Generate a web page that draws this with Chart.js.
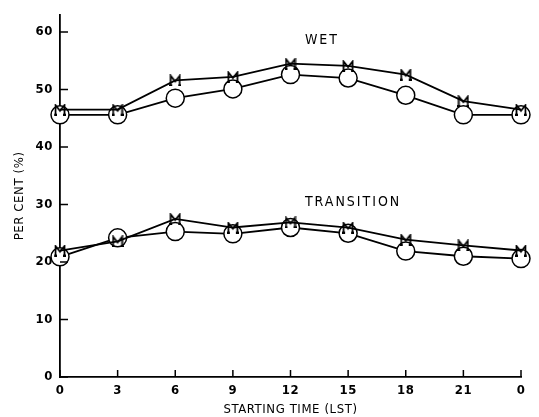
<!DOCTYPE html>
<html><head><meta charset="utf-8">
<script src="https://cdn.jsdelivr.net/npm/chart.js@4/dist/chart.umd.min.js"></script>
<style>html,body{margin:0;padding:0;background:#fff}#wrap{width:539px;height:417px}</style>
</head><body><div id="wrap"><canvas id="c"></canvas></div>
<script>
const categories = ['0','3','6','9','12','15','18','21','0'];
const wetM = [46.5, 46.5, 51.6, 52.2, 54.5, 54.1, 52.6, 48.0, 46.5];
const wetO = [45.6, 45.6, 48.5, 50.1, 52.6, 52.0, 49.0, 45.6, 45.6];
const transM = [22.0, 23.6, 27.5, 26.0, 26.9, 26.0, 23.9, 22.9, 22.0];
const transO = [20.9, 24.2, 25.3, 24.9, 26.0, 25.0, 21.9, 21.0, 20.6];
const yTicks = [0,10,20,30,40,50,60];
const labels = [{text:'WET', x:4.25, y:58.5},{text:'TRANSITION', x:4.25, y:30.3}];

const FONT = "'DejaVu Sans Condensed','DejaVu Sans',sans-serif";

function mMarker(){
  const c = document.createElement('canvas');
  c.width = 12; c.height = 12;
  const g = c.getContext('2d');
  g.strokeStyle = '#000'; g.lineWidth = 1.8; g.lineJoin='miter';
  g.beginPath();
  g.moveTo(1.5,11); g.lineTo(1.5,1.5); g.lineTo(6,7); g.lineTo(10.5,1.5); g.lineTo(10.5,11);
  g.stroke();
  g.beginPath(); g.moveTo(0,11); g.lineTo(3,11); g.moveTo(9,11); g.lineTo(12,11); g.stroke();
  return c;
}
const M = mMarker();

const inwardTicks = {
  id:'inwardTicks',
  beforeDraw(chart){ chart.ctx.letterSpacing = '0.6px'; },
  afterDatasetsDraw(chart){
    const ctx = chart.ctx, xs = chart.scales.x, ys = chart.scales.y, a = chart.chartArea;
    ctx.save();
    ctx.strokeStyle = '#000'; ctx.lineWidth = 1.5;
    ctx.beginPath();
    ys.ticks.forEach((t,i)=>{ const p = ys.getPixelForTick(i); ctx.moveTo(a.left, p); ctx.lineTo(a.left+8, p); });
    xs.ticks.forEach((t,i)=>{ const p = xs.getPixelForTick(i); ctx.moveTo(p, a.bottom); ctx.lineTo(p, a.bottom-7); });
    ctx.stroke();
    ctx.fillStyle = '#000';
    ctx.font = "14px " + FONT;
    ctx.letterSpacing = '2px';
    ctx.textAlign = 'left'; ctx.textBaseline = 'middle';
    labels.forEach(l => ctx.fillText(l.text, xs.getPixelForValue(l.x), ys.getPixelForValue(l.y)));
    ctx.restore();
  }
};

const tickFont = {family:FONT, size:13, weight:'bold'};
const titleFont = {family:FONT, size:13};
const common = {borderColor:'#000', borderWidth:1.8, tension:0, fill:false};
new Chart(document.getElementById('c'), {
  type:'line',
  data:{labels:categories, datasets:[
    {...common, label:'WET M', data:wetM, pointStyle:M, order:1},
    {...common, label:'WET O', data:wetO, pointStyle:'circle', pointRadius:9, pointBackgroundColor:'#fff', pointBorderColor:'#000', pointBorderWidth:1.5, order:2},
    {...common, label:'TRANSITION M', data:transM, pointStyle:M, order:1},
    {...common, label:'TRANSITION O', data:transO, pointStyle:'circle', pointRadius:9, pointBackgroundColor:'#fff', pointBorderColor:'#000', pointBorderWidth:1.5, order:2}
  ]},
  options:{
    responsive:true, maintainAspectRatio:false, animation:false,
    layout:{padding:{top:13, right:18, left:0, bottom:0}},
    plugins:{legend:{display:false}, tooltip:{enabled:false}},
    scales:{
      x:{
        offset:false,
        grid:{display:false, drawTicks:false},
        border:{display:true, color:'#000', width:1.8},
        ticks:{color:'#000', font:tickFont, padding:6, maxRotation:0, autoSkip:false},
        title:{display:true, text:'STARTING TIME (LST)', color:'#000', font:titleFont, padding:{top:1,bottom:0}},
        afterFit(s){ s.height = 40; }
      },
      y:{
        min:0, max:63,
        grid:{display:false, drawTicks:false},
        border:{display:true, color:'#000', width:1.8},
        ticks:{color:'#000', font:tickFont, padding:7, stepSize:10},
        afterBuildTicks(s){ s.ticks = yTicks.map(v=>({value:v})); },
        title:{display:true, text:'PER CENT (%)', color:'#000', font:titleFont, padding:{top:12,bottom:0}},
        afterFit(s){ s.width = 60; }
      }
    }
  },
  plugins:[inwardTicks]
});
</script></body></html>
